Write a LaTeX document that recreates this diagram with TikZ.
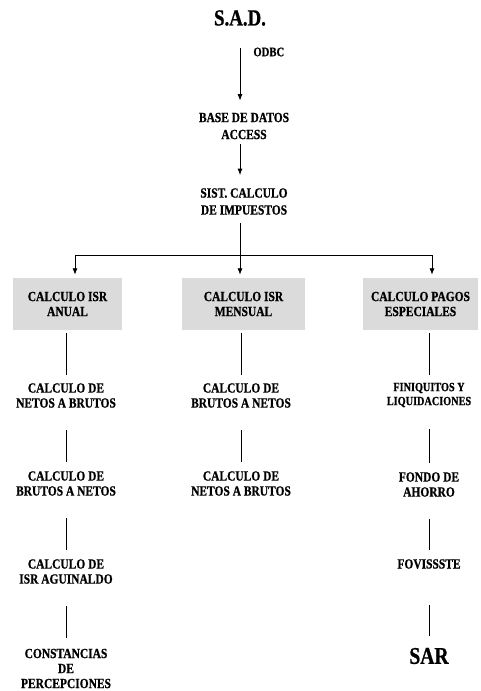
\documentclass[tikz,border=0pt]{standalone}
\usepackage{fontspec}
\usepackage{tikz}
\usetikzlibrary{arrows.meta}
\newfontfamily\tnr{Liberation Serif}[FakeStretch=0.82, BoldFeatures={FakeBold=0.8}]

\begin{document}
\begin{tikzpicture}[x=1pt, y=-1pt,
    >={Latex[length=6.5pt, width=5pt]},
    txt/.style={font=\tnr\bfseries\fontsize{14}{15}\selectfont,
        align=center, inner sep=0pt},
    top/.style={txt, font=\tnr\bfseries\fontsize{14}{17}\selectfont},
    hdr/.style={txt, fill=gray!28, minimum width=#1, minimum height=52pt},
    link/.style={line width=0.8pt}]
    \useasboundingbox (0,0) rectangle (481,691);

    % upper chain
    \node[txt, font=\tnr\bfseries\fontsize{23}{24}\selectfont] (sad) at (240,18) {S.A.D.};
    \node[top] (bd) at (244,126) {BASE DE DATOS\\ACCESS};
    \node[top] (sist) at (244,201.5) {SIST. CALCULO\\DE IMPUESTOS};

    \draw[link, ->, shorten <=22pt, shorten >=12pt]
        (sad.south) -- node[pos=0.3, right=13pt, txt, font=\tnr\bfseries\fontsize{13}{14}\selectfont] (odbc) {ODBC}
        (sad.south |- bd.north);
    \draw[link, ->, shorten <=5pt, shorten >=13pt]
        (sad |- bd.south) -- (sad |- sist.north);

    % the three branches
    \node[hdr=109pt] (anual) at (67.5,304) {CALCULO ISR\\ANUAL};
    \node[hdr=123pt] (mensual) at (243.5,304) {CALCULO ISR\\MENSUAL};
    \node[hdr=115pt] (especial) at (420.5,304) {CALCULO PAGOS\\ESPECIALES};

    \coordinate (barl) at (75,255);
    \coordinate (barr) at (432,255);
    \draw[link, ->, shorten <=8pt, shorten >=3pt]
        (sad |- sist.south) -- (sad |- mensual.north);
    \draw[link] (barl) -- (barr);
    \draw[link, ->, shorten >=3pt] (barl) -- (barl |- anual.north);
    \draw[link, ->, shorten >=3pt] (barr) -- (barr |- especial.north);

    % column 1
    \node[txt] (a1) at (66,395.5) {CALCULO DE\\NETOS A BRUTOS};
    \node[txt] (a2) at (66,483.5) {CALCULO DE\\BRUTOS A NETOS};
    \node[txt] (a3) at (66,571.5) {CALCULO DE\\ISR AGUINALDO};
    \node[txt] (a4) at (66,668.5) {CONSTANCIAS\\DE\\PERCEPCIONES};

    % column 2
    \node[txt] (m1) at (241,395.5) {CALCULO DE\\BRUTOS A NETOS};
    \node[txt] (m2) at (241,483.5) {CALCULO DE\\NETOS A BRUTOS};

    % column 3
    \node[txt, font=\tnr\bfseries\fontsize{12.5}{14}\selectfont] (e1) at (429,395) {FINIQUITOS Y\\LIQUIDACIONES};
    \node[txt] (e2) at (429,484.5) {FONDO DE\\AHORRO};
    \node[txt] (e3) at (429,564) {FOVISSSTE};
    \node[txt, font=\tnr\bfseries\fontsize{24}{26}\selectfont] (e4) at (429,656) {SAR};

    \draw[link, shorten <=3pt, shorten >=8pt] (a1 |- anual.south) -- (a1.north);
    \draw[link, shorten <=22pt, shorten >=9pt] (a1.south) -- (a2.north);
    \draw[link, shorten <=22pt, shorten >=9pt] (a2.south) -- (a3.north);
    \draw[link, shorten <=22pt, shorten >=11pt] (a3.south) -- (a4.north);

    \draw[link, shorten <=3pt, shorten >=8pt] (m1 |- mensual.south) -- (m1.north);
    \draw[link, shorten <=22pt, shorten >=9pt] (m1.south) -- (m2.north);

    \draw[link, shorten <=3pt, shorten >=8pt] (e1 |- especial.south) -- (e1.north);
    \draw[link, shorten <=22pt, shorten >=9pt] (e1.south) -- (e2.north);
    \draw[link, shorten <=22pt, shorten >=9pt] (e2.south) -- (e3.north);
    \draw[link, shorten <=36pt, shorten >=12pt] (e3.south) -- (e4.north);
\end{tikzpicture}
\end{document}
